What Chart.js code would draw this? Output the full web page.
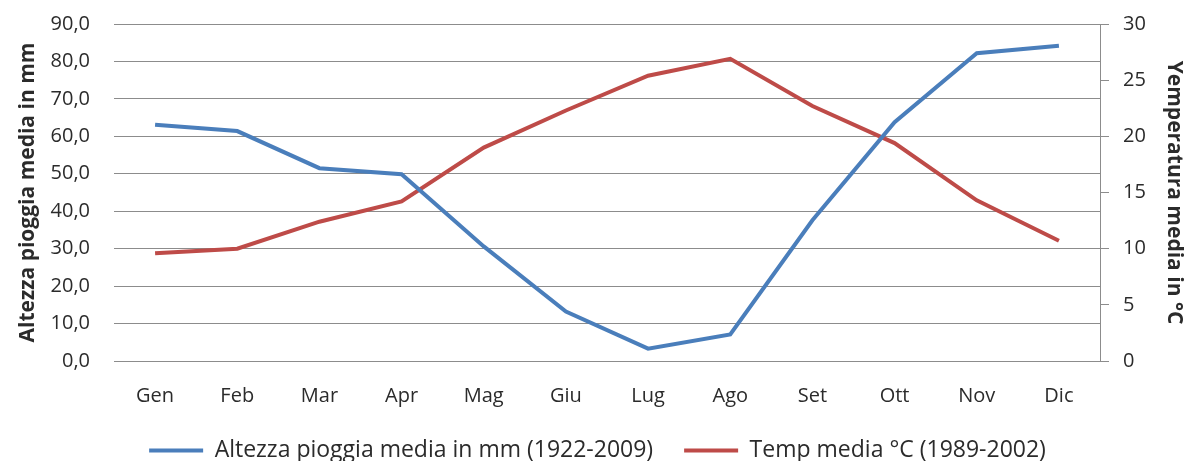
<!DOCTYPE html>
<html>
<head>
<meta charset="utf-8">
<script src="https://cdn.jsdelivr.net/npm/chart.js@4/dist/chart.umd.min.js"></script>
<style>
  html, body { margin: 0; padding: 0; background: #fff; }
  #wrap { width: 1187px; height: 461px; }
</style>
</head>
<body>
<div id="wrap"><canvas id="climaChart"></canvas></div>
<script>
// monthly data
const months = ['Gen', 'Feb', 'Mar', 'Apr', 'Mag', 'Giu', 'Lug', 'Ago', 'Set', 'Ott', 'Nov', 'Dic'];
const pioggia = [63.1, 61.4, 51.5, 49.9, 30.6, 13.2, 3.3, 7.1, 37.6, 63.8, 82.2, 84.2];
const temperatura = [9.6, 10.0, 12.4, 14.2, 19.0, 22.3, 25.4, 26.9, 22.7, 19.4, 14.3, 10.7];
const leftTicks = [0, 10, 20, 30, 40, 50, 60, 70, 80, 90];
const rightTicks = [0, 5, 10, 15, 20, 25, 30];

const textColor = '#2b2b2b';
const gridColor = '#8c8c8c';
const font = "'Open Sans', 'DejaVu Sans', sans-serif";

const ctx = document.getElementById('climaChart').getContext('2d');

new Chart(ctx, {
    type: 'line',
    data: {
        labels: months,
        datasets: [{
            label: 'Altezza pioggia media in mm (1922-2009)',
            data: pioggia,
            borderColor: '#4a7ebb',
            backgroundColor: '#4a7ebb',
            borderWidth: 4,
            pointRadius: 0,
            pointStyle: 'line',
            tension: 0,
            yAxisID: 'y'
        }, {
            label: 'Temp media °C (1989-2002)',
            data: temperatura,
            borderColor: '#be4b48',
            backgroundColor: '#be4b48',
            borderWidth: 4,
            pointRadius: 0,
            pointStyle: 'line',
            tension: 0,
            yAxisID: 'y1'
        }]
    },
    options: {
        responsive: true,
        maintainAspectRatio: false,
        animation: false,
        layout: { padding: { left: 8, right: 0, top: 0, bottom: -11 } },
        plugins: {
            tooltip: { enabled: false },
            legend: {
                position: 'bottom',
                labels: {
                    color: textColor,
                    font: { family: font, size: 23 },
                    usePointStyle: true,
                    pointStyleWidth: 54,
                    padding: 31
                }
            }
        },
        scales: {
            x: {
                offset: true,
                grid: { display: false, drawTicks: false },
                border: { display: false },
                ticks: {
                    color: textColor,
                    font: { family: font, size: 20 },
                    padding: 23,
                    autoSkip: false,
                    maxRotation: 0,
                    minRotation: 0
                },
                afterFit: function (scale) { scale.height = 47; }
            },
            y: {
                position: 'left',
                min: 0,
                max: 90,
                afterBuildTicks: function (scale) { scale.ticks = leftTicks.map(v => ({ value: v })); },
                ticks: {
                    color: textColor,
                    font: { family: font, size: 20, lineHeight: 1 },
                    padding: 14,
                    callback: v => v.toFixed(1).replace('.', ',')
                },
                grid: { color: gridColor, lineWidth: 1, tickLength: 10, tickColor: 'rgba(0,0,0,0)' },
                border: { display: false },
                title: {
                    display: true,
                    text: 'Altezza pioggia media in mm',
                    color: textColor,
                    font: { family: font, size: 21, weight: 'bold' },
                    padding: { top: 7, bottom: 0 }
                },
                afterFit: function (scale) { scale.width = 106; }
            },
            y1: {
                position: 'right',
                min: 0,
                max: 30,
                afterBuildTicks: function (scale) { scale.ticks = rightTicks.map(v => ({ value: v })); },
                ticks: { color: textColor, font: { family: font, size: 20, lineHeight: 1 }, padding: 14 },
                grid: { drawOnChartArea: false, color: gridColor, tickLength: 9, tickWidth: 1 },
                border: { display: true, color: gridColor, width: 1 },
                title: {
                    display: true,
                    text: 'Yemperatura media in °C',
                    color: textColor,
                    font: { family: font, size: 21, weight: 'bold' },
                    padding: { top: 0, bottom: -5 }
                },
                afterFit: function (scale) { scale.width = 87; }
            }
        }
    }
});
</script>
</body>
</html>
